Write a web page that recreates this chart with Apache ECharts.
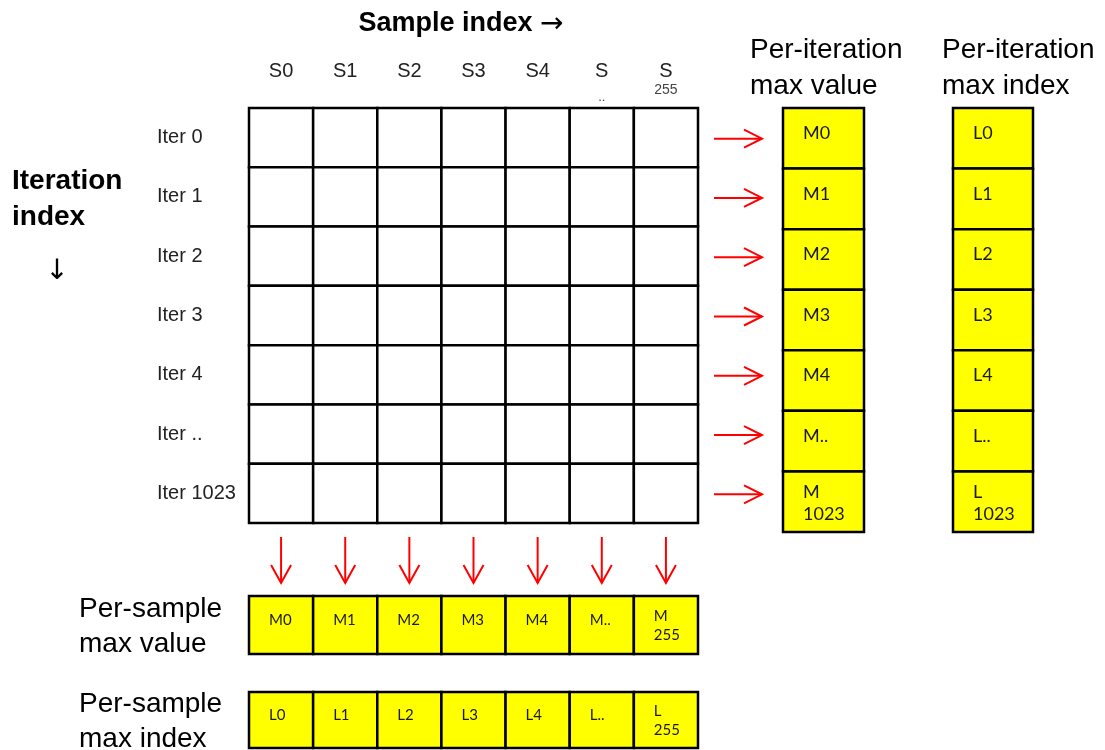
<!DOCTYPE html>
<html>
<head>
<meta charset="utf-8">
<script src="https://cdn.jsdelivr.net/npm/echarts@6/dist/echarts.min.js"></script>
<style>
html,body{margin:0;padding:0;background:#fff;}
#chart{width:1105px;height:750px;}
</style>
</head>
<body>
<div id="chart"></div>
<script>
// ---- data ----
const samples = ['S0', 'S1', 'S2', 'S3', 'S4', 'S..', 'S255'];
const iterations = ['Iter 0', 'Iter 1', 'Iter 2', 'Iter 3', 'Iter 4', 'Iter ..', 'Iter 1023'];
const iterMaxValue = ['M0', 'M1', 'M2', 'M3', 'M4', 'M..', 'M\n1023'];
const iterMaxIndex = ['L0', 'L1', 'L2', 'L3', 'L4', 'L..', 'L\n1023'];
const sampleMaxValue = ['M0', 'M1', 'M2', 'M3', 'M4', 'M..', 'M\n255'];
const sampleMaxIndex = ['L0', 'L1', 'L2', 'L3', 'L4', 'L..', 'L\n255'];

const titleMain = 'Sample index';
const titleMainArrow = '\u2192';
const titleIter = 'Iteration\nindex';
const titleIterArrow = '\u2193';
const titleIterVal = 'Per-iteration\nmax value';
const titleIterIdx = 'Per-iteration\nmax index';
const titleSampVal = 'Per-sample\nmax value';
const titleSampIdx = 'Per-sample\nmax index';

// ---- build ----
const chart = echarts.init(document.getElementById('chart'), null, {renderer: 'canvas'});
const RED = '#ff0000';
const BOXFONT = 'Lato, "Open Sans", sans-serif';
const SANS = '"Liberation Sans", Arial, sans-serif';
const ARROWFONT = '"Noto Sans", "DejaVu Sans", sans-serif';

function cellRender(fill, fontSize, labels) {
  return function (params, api) {
    const c = api.coord([api.value(0), api.value(1)]);
    const s = api.size([1, 1]);
    const x = c[0] - s[0] / 2, y = c[1] - s[1] / 2;
    const children = [{
      type: 'rect',
      shape: {x: x, y: y, width: s[0], height: s[1]},
      style: {fill: fill, stroke: '#000', lineWidth: 2.5}
    }];
    if (labels) {
      const t = labels[params.dataIndex];
      const multi = t.indexOf('\n') >= 0;
      children.push({
        type: 'text',
        style: {
          text: t, x: x + 20, y: c[1] + (multi ? 1 : -5),
          align: 'left', verticalAlign: 'middle',
          font: fontSize + 'px ' + BOXFONT, lineHeight: fontSize + 4,
          fill: '#1a1a1a'
        }
      });
    }
    return {type: 'group', children: children};
  };
}

function arrowRight(params, api) {
  const c = api.coord([api.value(0), api.value(1)]);
  const s = api.size([1, 1]);
  const x0 = c[0] + s[0] / 2 + 16, x1 = c[0] + s[0] / 2 + 64, y = c[1] + 1;
  return {type: 'group', children: [
    {type: 'line', shape: {x1: x0, y1: y, x2: x1, y2: y}, style: {stroke: RED, lineWidth: 2}},
    {type: 'polyline', shape: {points: [[x1 - 18, y - 9], [x1, y], [x1 - 18, y + 9]]}, style: {stroke: RED, lineWidth: 2, fill: null}}
  ]};
}

function arrowDown(params, api) {
  const c = api.coord([api.value(0), api.value(1)]);
  const s = api.size([1, 1]);
  const y0 = c[1] + s[1] / 2 + 14, y1 = c[1] + s[1] / 2 + 60, x = c[0];
  return {type: 'group', children: [
    {type: 'line', shape: {x1: x, y1: y0, x2: x, y2: y1}, style: {stroke: RED, lineWidth: 2}},
    {type: 'polyline', shape: {points: [[x - 10, y1 - 18], [x, y1], [x + 10, y1 - 18]]}, style: {stroke: RED, lineWidth: 2, fill: null}}
  ]};
}

const mainCells = [];
iterations.forEach((it, i) => samples.forEach((sm, j) => mainCells.push([j, i])));
const colCells = iterations.map((it, i) => [0, i]);
const rowCells = samples.map((sm, j) => [j, 0]);

const hiddenCat = (data, extra) => Object.assign({type: 'category', data: data, show: false, boundaryGap: true}, extra || {});

const option = {
  animation: false,
  backgroundColor: '#ffffff',
  grid: [
    {left: 249, top: 108, width: 449, height: 415},
    {left: 783, top: 108, width: 81, height: 424},
    {left: 953, top: 108, width: 80, height: 424},
    {left: 249, top: 596, width: 449, height: 58},
    {left: 249, top: 692, width: 449, height: 56}
  ],
  xAxis: [
    {
      type: 'category', data: samples, gridIndex: 0, position: 'top',
      axisLine: {show: false}, axisTick: {show: false}, splitLine: {show: false},
      axisLabel: {
        margin: 47, verticalAlign: 'top', interval: 0,
        fontFamily: SANS, fontSize: 20, color: '#222',
        lineHeight: 21,
        formatter: function (v) {
          if (v === 'S..') return 'S\n{dots|..}';
          if (v === 'S255') return 'S\n{sub|255}';
          return v;
        },
        rich: {
          dots: {fontSize: 13, lineHeight: 30, color: '#444', fontFamily: SANS},
          sub: {fontSize: 14, lineHeight: 17, color: '#444', fontFamily: SANS}
        }
      }
    },
    hiddenCat(['c'], {gridIndex: 1}),
    hiddenCat(['c'], {gridIndex: 2}),
    hiddenCat(samples, {gridIndex: 3}),
    hiddenCat(samples, {gridIndex: 4})
  ],
  yAxis: [
    {
      type: 'category', data: iterations, gridIndex: 0, inverse: true,
      axisLine: {show: false}, axisTick: {show: false}, splitLine: {show: false},
      axisLabel: {
        align: 'left', margin: 92, interval: 0,
        fontFamily: SANS, fontSize: 20, color: '#222'
      }
    },
    hiddenCat(iterations, {gridIndex: 1, inverse: true}),
    hiddenCat(iterations, {gridIndex: 2, inverse: true}),
    hiddenCat(['r'], {gridIndex: 3}),
    hiddenCat(['r'], {gridIndex: 4})
  ],
  graphic: [
    {type: 'text', x: 461, y: 24, style: {
      text: titleMain + ' {a|' + titleMainArrow + '}', align: 'center', verticalAlign: 'middle',
      font: 'bold 27px ' + SANS, fill: '#000',
      rich: {a: {fontFamily: ARROWFONT, fontSize: 28, fontWeight: 'normal', fill: '#000', color: '#000'}}
    }},
    {type: 'text', x: 12, y: 163, style: {text: titleIter, align: 'left', verticalAlign: 'top', lineHeight: 36, font: 'bold 28px ' + SANS, fill: '#000'}},
    {type: 'text', x: 57, y: 271, style: {text: titleIterArrow, align: 'center', verticalAlign: 'middle', font: '28px ' + ARROWFONT, fill: '#000'}},
    {type: 'text', x: 750, y: 32, style: {text: titleIterVal, align: 'left', verticalAlign: 'top', lineHeight: 36, font: '28px ' + SANS, fill: '#000'}},
    {type: 'text', x: 942, y: 32, style: {text: titleIterIdx, align: 'left', verticalAlign: 'top', lineHeight: 36, font: '28px ' + SANS, fill: '#000'}},
    {type: 'text', x: 79, y: 592, style: {text: titleSampVal, align: 'left', verticalAlign: 'top', lineHeight: 35, font: '28px ' + SANS, fill: '#000'}},
    {type: 'text', x: 79, y: 687, style: {text: titleSampIdx, align: 'left', verticalAlign: 'top', lineHeight: 35, font: '28px ' + SANS, fill: '#000'}}
  ],
  series: [
    {type: 'custom', xAxisIndex: 0, yAxisIndex: 0, data: mainCells, renderItem: cellRender('#ffffff', 0, null), silent: true},
    {type: 'custom', xAxisIndex: 0, yAxisIndex: 0, data: iterations.map((it, i) => [samples.length - 1, i]), renderItem: arrowRight, silent: true},
    {type: 'custom', xAxisIndex: 0, yAxisIndex: 0, data: samples.map((sm, j) => [j, iterations.length - 1]), renderItem: arrowDown, silent: true},
    {type: 'custom', xAxisIndex: 1, yAxisIndex: 1, data: colCells, renderItem: cellRender('#ffff00', 18, iterMaxValue), silent: true},
    {type: 'custom', xAxisIndex: 2, yAxisIndex: 2, data: colCells, renderItem: cellRender('#ffff00', 18, iterMaxIndex), silent: true},
    {type: 'custom', xAxisIndex: 3, yAxisIndex: 3, data: rowCells, renderItem: cellRender('#ffff00', 15, sampleMaxValue), silent: true},
    {type: 'custom', xAxisIndex: 4, yAxisIndex: 4, data: rowCells, renderItem: cellRender('#ffff00', 15, sampleMaxIndex), silent: true}
  ]
};
chart.setOption(option);
</script>
</body>
</html>
